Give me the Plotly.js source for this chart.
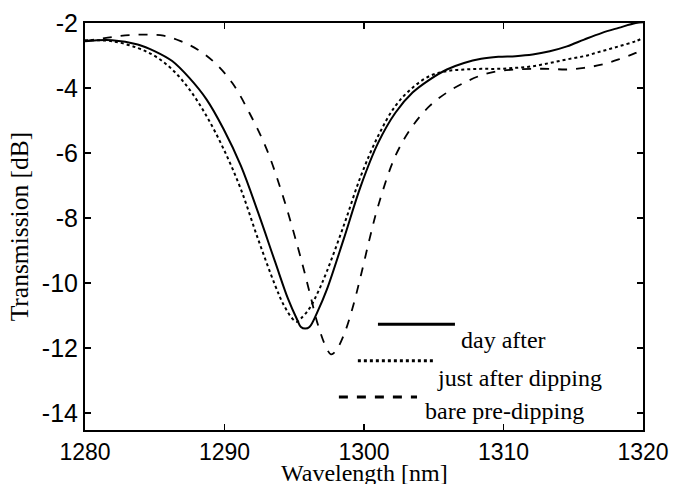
<!DOCTYPE html>
<html>
<head>
<meta charset="utf-8">
<script src="https://cdn.plot.ly/plotly-3.0.1.min.js"></script>
<style>html,body{margin:0;padding:0;background:#fff;}#chart{width:675px;height:484px;}</style>
</head>
<body>
<div id="chart"></div>
<script>
// Day after (solid)
var dayAfterX = [1280, 1281.94, 1283.78, 1285.02, 1286.25, 1287.48, 1288.71, 1289.94, 1291.17, 1292.40, 1293.63, 1294.55, 1295.17, 1295.48, 1295.78, 1296.09, 1296.71, 1297.32, 1298.55, 1299.78, 1301.02, 1302.25, 1303.48, 1304.71, 1305.94, 1307.17, 1308.40, 1309.63, 1310.86, 1312.09, 1313.32, 1314.55, 1315.78, 1317.02, 1318.25, 1319.48, 1320];
var dayAfterY = [-2.56, -2.53, -2.66, -2.87, -3.17, -3.69, -4.35, -5.27, -6.39, -7.82, -9.35, -10.48, -11.09, -11.35, -11.40, -11.35, -10.84, -10.22, -8.64, -7.00, -5.68, -4.76, -4.14, -3.74, -3.43, -3.23, -3.10, -3.04, -3.02, -2.97, -2.87, -2.72, -2.51, -2.31, -2.15, -2.00, -1.98];

// Just after dipping (dotted)
var justAfterX = [1280, 1281.94, 1283.78, 1285.02, 1286.25, 1287.48, 1288.71, 1289.94, 1291.17, 1292.40, 1293.63, 1294.25, 1294.86, 1295.17, 1295.48, 1296.09, 1296.71, 1297.32, 1298.55, 1299.78, 1301.02, 1302.25, 1303.48, 1304.71, 1305.94, 1307.17, 1308.40, 1309.63, 1310.86, 1312.09, 1313.32, 1314.55, 1315.78, 1317.02, 1318.25, 1319.48, 1320];
var justAfterY = [-2.53, -2.56, -2.77, -3.02, -3.43, -4.04, -4.86, -5.88, -7.11, -8.64, -10.07, -10.68, -11.09, -11.19, -11.09, -10.78, -10.27, -9.66, -8.23, -6.70, -5.47, -4.55, -3.99, -3.63, -3.48, -3.43, -3.41, -3.41, -3.38, -3.33, -3.23, -3.12, -3.02, -2.87, -2.72, -2.56, -2.46];

// Bare pre-dipping (dashed)
var bareX = [1280, 1281.94, 1283.17, 1284.40, 1285.63, 1286.86, 1288.09, 1289.32, 1290.55, 1291.78, 1293.02, 1294.25, 1295.48, 1296.09, 1296.71, 1297.32, 1297.63, 1297.94, 1298.55, 1299.17, 1299.78, 1300.40, 1301.02, 1302.25, 1303.48, 1304.71, 1305.94, 1307.17, 1308.40, 1309.63, 1310.86, 1312.09, 1313.32, 1314.55, 1315.78, 1317.02, 1318.25, 1319.48, 1320];
var bareY = [-2.56, -2.43, -2.37, -2.36, -2.39, -2.56, -2.82, -3.23, -3.84, -4.76, -5.88, -7.41, -9.25, -10.27, -11.30, -12.01, -12.19, -12.11, -11.60, -10.78, -9.76, -8.64, -7.62, -6.09, -5.17, -4.55, -4.14, -3.84, -3.61, -3.48, -3.43, -3.41, -3.41, -3.43, -3.38, -3.28, -3.12, -2.92, -2.82];

var seriesNames = ["day after", "just after dipping", "bare pre-dipping"];
var xTicks = [1280, 1290, 1300, 1310, 1320];
var yTicks = [-2, -4, -6, -8, -10, -12, -14];
var xTitle = "Wavelength [nm]";
var yTitle = "Transmission [dB]";

var serif = "Liberation Serif, Times New Roman, serif";
var sans = "Liberation Sans, Arial, sans-serif";

var traces = [
  {x: dayAfterX, y: dayAfterY, mode: "lines", name: seriesNames[0], line: {color: "#000", width: 2, dash: "solid", shape: "spline"}},
  {x: justAfterX, y: justAfterY, mode: "lines", name: seriesNames[1], line: {color: "#000", width: 2, dash: "dot", shape: "spline"}},
  {x: bareX, y: bareY, mode: "lines", name: seriesNames[2], line: {color: "#000", width: 1.8, dash: "dash", shape: "spline"}}
];

// Hand-placed legend (samples above-left of labels, as in the original)
var legendPos = [
  {x0: 0.525, x1: 0.663, y: 0.260, tx: 0.670, ty: 0.221, dash: "solid"},
  {x0: 0.489, x1: 0.627, y: 0.170, tx: 0.627, ty: 0.128, dash: "dot"},
  {x0: 0.455, x1: 0.595, y: 0.081, tx: 0.606, ty: 0.047, dash: "dash"}
];
var shapes = [];
var annotations = [];
legendPos.forEach(function (p, i) {
  shapes.push({type: "line", xref: "paper", yref: "paper", x0: p.x0, x1: p.x1, y0: p.y, y1: p.y,
    line: {color: "#000", width: 3, dash: p.dash}});
  annotations.push({xref: "paper", yref: "paper", x: p.tx, y: p.ty, xanchor: "left", yanchor: "middle",
    text: seriesNames[i], showarrow: false, font: {family: serif, size: 24, color: "#000"}});
});
// x-axis title, placed low like the original
annotations.push({xref: "paper", yref: "paper", x: 0.5, y: -0.106, xanchor: "center", yanchor: "middle",
  text: xTitle, showarrow: false, font: {family: serif, size: 24, color: "#000"}});

var layout = {
  width: 675, height: 484,
  margin: {l: 85, r: 32, t: 23, b: 54},
  paper_bgcolor: "#fff", plot_bgcolor: "#fff",
  showlegend: false,
  xaxis: {
    range: [1280, 1320], tickvals: xTicks, ticktext: xTicks.map(String),
    ticks: "inside", ticklen: 6, tickwidth: 1.5, tickcolor: "#000",
    showline: true, linecolor: "#000", linewidth: 2, mirror: "ticks",
    showgrid: false, zeroline: false, automargin: false,
    tickfont: {family: sans, size: 23, color: "#000"},
    title: {text: ""}
  },
  yaxis: {
    range: [-14.52, -2], tickvals: yTicks, ticktext: yTicks.map(String),
    ticks: "inside", ticklen: 6, tickwidth: 1.5, tickcolor: "#000",
    showline: true, linecolor: "#000", linewidth: 2, mirror: "ticks",
    showgrid: false, zeroline: false, automargin: false,
    tickfont: {family: sans, size: 25, color: "#000"},
    title: {text: yTitle, font: {family: serif, size: 25.5, color: "#000"}, standoff: 6}
  },
  shapes: shapes,
  annotations: annotations
};

Plotly.newPlot("chart", traces, layout, {displayModeBar: false, staticPlot: true});
</script>
</body>
</html>
